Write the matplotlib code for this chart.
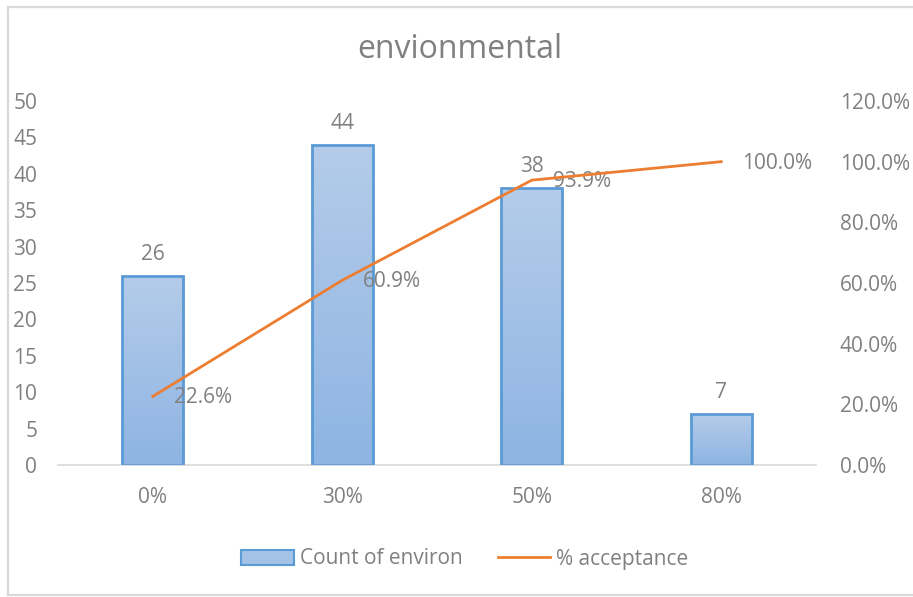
import numpy as np
import matplotlib
matplotlib.use("Agg")
import matplotlib.pyplot as plt
from matplotlib.patches import Rectangle
from matplotlib.lines import Line2D
from matplotlib.colors import LinearSegmentedColormap

plt.rcParams['font.family'] = ['Open Sans', 'DejaVu Sans']

categories = ["0%", "30%", "50%", "80%"]
counts = [26, 44, 38, 7]
acceptance = [22.6, 60.9, 93.9, 100.0]
left_ticks = [0, 5, 10, 15, 20, 25, 30, 35, 40, 45, 50]
right_ticks = [0, 20, 40, 60, 80, 100, 120]

TEXT = "#808080"
BAR_EDGE = "#5b9bd5"
LINE = "#ed7d31"
GRID = "#d9d9d9"
FS = 15

fig = plt.figure(figsize=(9.13, 5.97), dpi=100)
ax = fig.add_axes([58 / 913, 1 - 465 / 597, (816 - 58) / 913, (465 - 101) / 597])
ax2 = ax.twinx()

x = np.arange(len(categories))
bars = ax.bar(x, counts, width=0.32, facecolor="none", edgecolor=BAR_EDGE,
              linewidth=2.0, zorder=3)

# vertical gradient fill inside each bar
grad = LinearSegmentedColormap.from_list("bar_grad", ["#8eb4e3", "#b4cce9"])
gimg = np.linspace(0, 1, 256).reshape(-1, 1)
for b in bars:
    x0, y0 = b.get_x(), b.get_y()
    w, h = b.get_width(), b.get_height()
    im = ax.imshow(gimg, cmap=grad, origin="lower", aspect="auto",
                   extent=(x0, x0 + w, y0, y0 + h), zorder=2,
                   interpolation="bilinear")
    im.set_clip_path(b)

for xi, c in zip(x, counts):
    ax.annotate(f"{c}", (xi, c), xytext=(0, 8), textcoords="offset points",
                ha="center", va="bottom", fontsize=FS, color=TEXT)

ax.set_xlim(-0.5, len(categories) - 0.5)
ax.set_ylim(0, 50)
ax.set_yticks(left_ticks)
ax.set_xticks(x)
ax.set_xticklabels(categories)

ax2.plot(x, acceptance, color=LINE, linewidth=2.0, zorder=4)
ax2.set_ylim(0, 120)
ax2.set_yticks(right_ticks)
ax2.set_yticklabels([f"{v:.1f}%" for v in right_ticks])
for xi, a in zip(x, acceptance):
    ax2.annotate(f"{a:.1f}%", (xi, a), xytext=(15, -1), textcoords="offset points",
                 ha="left", va="center", fontsize=FS, color=TEXT)

for a in (ax, ax2):
    for s in a.spines.values():
        s.set_visible(False)
    a.tick_params(length=0, colors=TEXT, labelsize=FS)
    a.set_facecolor("none")
ax.spines["bottom"].set_visible(True)
ax.spines["bottom"].set_color(GRID)
ax.spines["bottom"].set_linewidth(1.2)
ax.tick_params(axis="y", pad=15)
ax.tick_params(axis="x", pad=16)
ax2.tick_params(axis="y", pad=17)

fig.text(460 / 913, 1 - 50 / 597, "envionmental", ha="center", va="center",
         fontsize=23, color=TEXT)

handles = [Rectangle((0, 0), 1, 1, facecolor="#a4c2e6", edgecolor=BAR_EDGE, linewidth=1.5),
           Line2D([0], [0], color=LINE, linewidth=2.0)]
fig.legend(handles, ["Count of environ", "% acceptance"], loc="center",
           bbox_to_anchor=(465 / 913, 1 - 559 / 597), ncol=2, frameon=False,
           fontsize=FS, labelcolor=TEXT, handlelength=2.5, handleheight=0.75,
           columnspacing=1.7, handletextpad=0.3)

# chart border: left, top and bottom edges (right edge lies past the canvas)
W, H = 913, 597
xl, yt, yb = 7.5 / W, 1 - 6.5 / H, 1 - 595 / H
for xs, ys in [((xl, xl), (yb, yt)), ((xl, 1.0), (yt, yt)), ((xl, 1.0), (yb, yb))]:
    fig.add_artist(Line2D(xs, ys, transform=fig.transFigure, color=GRID,
                          linewidth=1.6, solid_capstyle="projecting"))

fig.savefig("out.png", dpi=100)
